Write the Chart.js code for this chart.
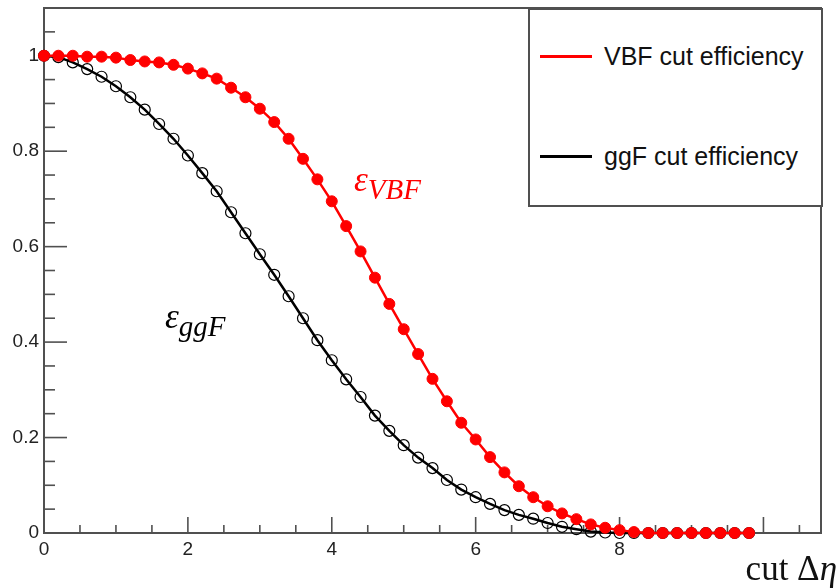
<!DOCTYPE html>
<html lang="en">
<head>
  <meta charset="UTF-8">
  <title>VBF / ggF cut efficiency vs cut Δη</title>
  <script src="https://cdn.jsdelivr.net/npm/chart.js"></script>
  <style>
    html,body{width:840px;height:588px;margin:0;padding:0;overflow:hidden;background:#fff;font-family:'Liberation Sans',Arial,sans-serif}
    #wrap{position:relative;width:840px;height:588px}
    .legend{position:absolute;left:528px;top:8px;width:291px;height:195px;border:2px solid #505050;background:#fff}
    .legend .row{position:absolute;left:10px;height:30px;display:flex;align-items:center;font-size:25px;color:#111}
    .legend .swatch{width:52px;height:3px;margin-right:12px}
    .lbl{position:absolute;font-family:'Liberation Serif','Times New Roman',serif;font-style:italic;font-size:35px;white-space:nowrap}
    .lbl sub{font-size:29px;vertical-align:-8px;line-height:0}
    .axtitle{position:absolute;right:3px;top:549px;font-family:'Liberation Serif','Times New Roman',serif;font-size:35px;color:#111;white-space:nowrap}
  </style>
</head>
<body>
<div id="wrap">
  <canvas id="c"></canvas>
  <div class="legend">
    <div class="row" style="top:31px"><span class="swatch" style="background:#ff0000"></span>VBF cut efficiency</div>
    <div class="row" style="top:131px"><span class="swatch" style="background:#000"></span>ggF cut efficiency</div>
  </div>
  <div class="lbl" style="left:354px;top:160px;color:#ff0000">ε<sub>VBF</sub></div>
  <div class="lbl" style="left:165px;top:297px;color:#000">ε<sub>ggF</sub></div>
  <div class="axtitle">cut Δ<i>η</i></div>
</div>

<script>
// cut values (Δη), one point every 0.2
const cutEta=[0,0.2,0.4,0.6,0.8,1.0,1.2,1.4,1.6,1.8,2.0,2.2,2.4,2.6,2.8,3.0,3.2,3.4,3.6,3.8,
  4.0,4.2,4.4,4.6,4.8,5.0,5.2,5.4,5.6,5.8,6.0,6.2,6.4,6.6,6.8,7.0,7.2,7.4,7.6,7.8,
  8.0,8.2,8.4,8.6,8.8,9.0,9.2,9.4,9.6,9.8];
const vbfEff=[1.0,1.0,1.0,0.998,0.998,0.996,0.991,0.988,0.986,0.981,0.973,0.963,0.952,0.933,0.913,0.889,0.861,0.826,0.784,0.741,
  0.695,0.643,0.590,0.535,0.480,0.427,0.375,0.323,0.276,0.231,0.196,0.159,0.127,0.098,0.075,0.056,0.041,0.029,0.018,0.011,
  0.006,0.002,0,0,0,0,0,0,0,0];
const ggfEff=[1.0,0.997,0.986,0.972,0.956,0.936,0.913,0.887,0.857,0.826,0.791,0.754,0.716,0.672,0.628,0.584,0.541,0.496,0.450,0.404,
  0.362,0.322,0.285,0.246,0.214,0.184,0.158,0.136,0.111,0.091,0.075,0.061,0.048,0.038,0.030,0.021,0.013,0.008,0.003,0.001,
  0,0,0,0,0,0,0,0,0,0];
const xTickLabels=[0,2,4,6,8];
const yTickLabels=[0,0.2,0.4,0.6,0.8,1];

const xy=(xs,ys)=>xs.map((x,i)=>({x:x,y:ys[i]}));

// ROOT-like frame with ticks pointing inwards
const rootFrame={
  id:'rootFrame',
  beforeDatasetsDraw(chart){
    const {ctx,chartArea:a,scales:{x,y}}=chart;
    ctx.save();
    ctx.strokeStyle='#505050';
    ctx.lineWidth=1.6;
    for(let v=0;v<=10.51;v+=0.5){
      const px=x.getPixelForValue(v);
      const major=Math.abs(v/2-Math.round(v/2))<1e-6;
      ctx.beginPath();ctx.moveTo(px,a.bottom);ctx.lineTo(px,a.bottom-(major?16:8));ctx.stroke();
    }
    for(let v=0;v<=1.051;v+=0.05){
      const py=y.getPixelForValue(v);
      const major=Math.abs(v/0.2-Math.round(v/0.2))<1e-6;
      ctx.beginPath();ctx.moveTo(a.left,py);ctx.lineTo(a.left+(major?23:11),py);ctx.stroke();
    }
    ctx.lineWidth=2;
    ctx.strokeRect(a.left,a.top,a.right-a.left,a.bottom-a.top);
    ctx.restore();
  }
};

const tickFont={family:"'Liberation Sans', Arial, sans-serif",size:19};

new Chart(document.getElementById('c'),{
  type:'line',
  data:{datasets:[
    {label:'VBF cut efficiency',data:xy(cutEta,vbfEff),borderColor:'#ff0000',backgroundColor:'#ff0000',borderWidth:2.5,
     pointRadius:5.5,pointBackgroundColor:'#ff0000',pointBorderColor:'#ff0000',pointBorderWidth:1,tension:0,clip:false},
    {label:'ggF cut efficiency',data:xy(cutEta,ggfEff),borderColor:'#000',backgroundColor:'rgba(0,0,0,0)',borderWidth:2.5,
     pointRadius:5.5,pointBackgroundColor:'rgba(0,0,0,0)',pointBorderColor:'#000',pointBorderWidth:1.2,tension:0,clip:false}
  ]},
  options:{
    responsive:true,maintainAspectRatio:false,animation:false,
    layout:{padding:{top:8,right:19,left:0,bottom:0}},
    plugins:{legend:{display:false},tooltip:{enabled:false}},
    scales:{
      x:{type:'linear',min:0,max:10.8,
        afterFit(s){s.height=55;s.paddingLeft=0;s.paddingRight=0;},
        grid:{display:false,drawTicks:false},border:{display:false},
        ticks:{stepSize:2,includeBounds:false,autoSkip:false,maxRotation:0,padding:5,color:'#222',font:tickFont,
          callback:v=>xTickLabels.includes(v)?String(v):''}},
      y:{type:'linear',min:0,max:1.1,
        afterFit(s){s.width=44;s.paddingTop=0;s.paddingBottom=0;},
        grid:{display:false,drawTicks:false},border:{display:false},
        ticks:{stepSize:0.2,includeBounds:false,autoSkip:false,padding:5,color:'#222',font:tickFont,
          callback:v=>{const r=+v.toFixed(1);return yTickLabels.includes(r)?String(r):'';}}}
    }
  },
  plugins:[rootFrame]
});
</script>
</body>
</html>
